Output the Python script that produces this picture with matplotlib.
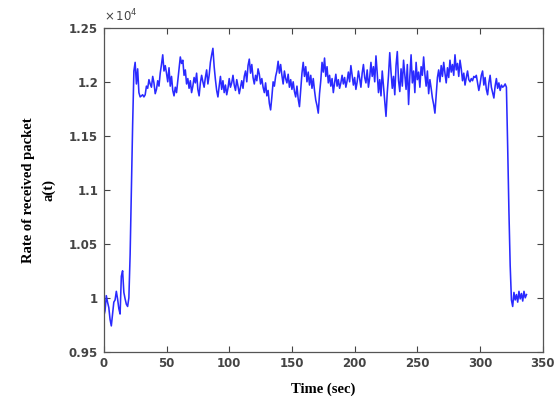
import numpy as np
import matplotlib
matplotlib.use("Agg")
from matplotlib import pyplot as plt
from matplotlib.ticker import FuncFormatter

# packets received per second (1 s sampling)
rate = [
    9830, 9880, 10020, 9960, 9910, 9800, 9740, 9850, 9960, 9980,
    10060, 9990, 9900, 9850, 10200, 10250, 10050, 9990, 9940, 9920,
    10000, 10400, 11000, 11600, 12100, 12180, 11980, 12120, 11900, 11860,
    11870, 11880, 11860, 11880, 11960, 11940, 12020, 11980, 11950, 12050,
    11990, 11890, 11930, 12010, 11960, 12080, 12160, 12250, 12100, 12150,
    12080, 12000, 12130, 11960, 12050, 11920, 11870, 11950, 11900, 12010,
    12120, 12230, 12170, 12200, 12060, 12110, 11980, 12030, 11940, 12010,
    11900,
    11960, 12040, 11990, 12080, 11930, 11870, 11990, 12060, 12000, 11950,
    12040, 12110, 11980, 12060, 12180, 12250, 12310, 12140, 12020, 11920,
    11860, 11960, 12050, 11930, 12010, 11900, 11970, 11880, 11940, 12030,
    11950, 11990, 12060, 11970, 11920, 12020, 11960, 11890, 11950, 12010,
    11940, 12050, 12100, 12000, 12150, 12210, 12080, 12160, 12040, 11980,
    12060, 12010, 12120, 12070, 11980, 12030, 11950, 11900, 11990, 11870,
    11920, 11800, 11740, 11860, 12000, 11960, 12050, 12100, 12190, 12080,
    12160, 12060, 11980, 12100, 12030, 11990, 12070, 11950, 12020, 11930,
    12000, 11910, 11860, 11960, 11840, 11770, 11920, 12080, 12180, 12050,
    12140, 12000, 12090, 11970, 12060, 11940, 12030, 11920, 11830, 11780,
    11710, 11890, 12010, 12180, 12090, 12220, 12050, 12140, 11990, 12060,
    11960, 12030, 11900, 11990, 12070, 11960, 12020, 11940, 11990, 12060,
    11980, 12040, 11950, 12010, 12090, 12000, 12150, 12060, 11970, 12040,
    11930, 12000, 12100, 12030, 11950, 12080, 12160, 12040, 11990, 12110,
    11950, 12040, 12180, 12050, 12140, 12000, 12240, 12080, 11900, 12020,
    11870, 12100, 11960, 11820, 11680, 11900, 12060, 12270, 12090, 11940,
    12050, 11880, 12150, 12280, 12010, 11910, 12120, 11960, 12200, 12060,
    11930, 12160, 11790, 12050, 12250, 11990, 12100, 11900, 12180, 12020,
    12090, 11950, 12140, 12060, 12230, 12070, 11960, 12100, 11890, 12020,
    11940, 11850, 11790, 11710, 11880, 12040, 12110, 12000, 12150, 12050,
    12180, 12080, 11990, 12130, 12040, 12200, 12090, 12160, 12060, 12250,
    12110, 12170, 12050, 12200, 12120, 12010, 12080, 11970, 12040, 12100,
    12020, 12000, 12030, 12010, 12050, 12040, 12060, 11990, 11920, 11980,
    12060, 12100, 11970, 12040, 11930, 11880, 11990, 12060, 11950, 11900,
    11850, 11960, 12030, 11940, 11990, 11920, 11970, 11950, 11960, 11980,
    11950, 11400, 10800, 10300, 9980, 9920, 10050, 9980, 10030, 9960,
    10060, 9990, 10040, 9970, 10060, 10000, 10030,
]
time_sec = np.arange(len(rate))

x_ticks = [0, 50, 100, 150, 200, 250, 300, 350]
y_ticks = [0.95, 1.0, 1.05, 1.1, 1.15, 1.2, 1.25]
ESCALA = 1e4

fig = plt.figure(figsize=(5.55, 4.03), dpi=100)
ax = fig.add_axes([0.187, 0.127, 0.791, 0.804])
ax.plot(time_sec, np.array(rate) / ESCALA, color="#2a2aff", linewidth=1.15)

ax.set_xlim(0, 350)
ax.set_ylim(0.95, 1.25)
ax.set_xticks(x_ticks)
ax.set_yticks(y_ticks)
ax.yaxis.set_major_formatter(FuncFormatter(lambda v, p: f"{v:g}"))
ax.tick_params(direction="in", length=4, width=0.8, top=True, right=True,
               labelsize=8.5, labelcolor="#444444", color="#444444", pad=4)
for lab in ax.get_xticklabels() + ax.get_yticklabels():
    lab.set_fontweight("bold")
for s in ax.spines.values():
    s.set_color("#555555")
    s.set_linewidth(0.9)

ax.text(0.0, 1.012, r"$\times\,10^4$", transform=ax.transAxes, fontsize=8.5,
        color="#444444", ha="left", va="bottom", fontweight="bold")

ax.set_xlabel("Time (sec)", family="Liberation Serif", fontweight="bold",
              fontsize=10.5, labelpad=9)
ax.set_ylabel("Rate of received packet\na(t)", family="Liberation Serif",
              fontweight="bold", fontsize=10.5, labelpad=10, linespacing=1.6)

fig.savefig("out.png", dpi=100)
